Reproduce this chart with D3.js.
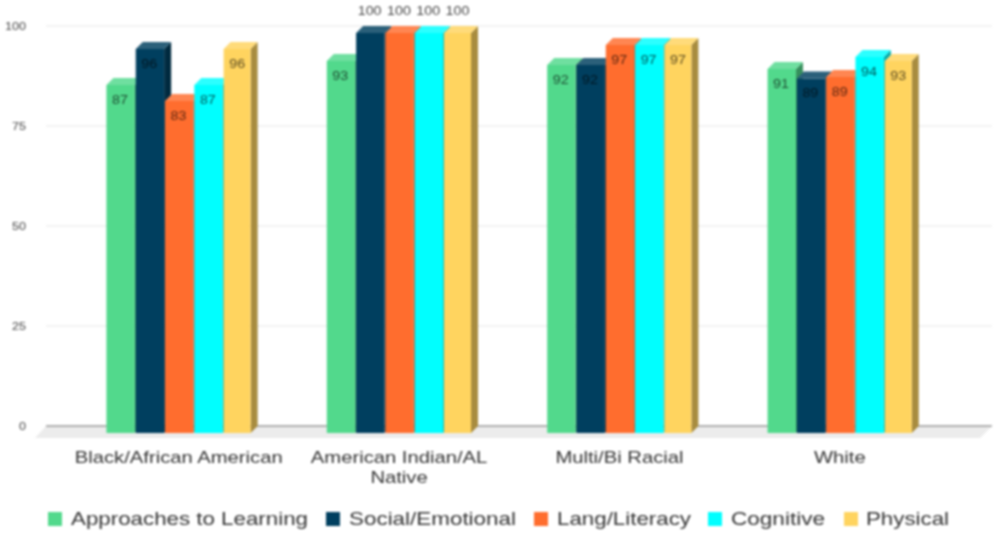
<!DOCTYPE html>
<html><head><meta charset="utf-8">
<script src="https://cdn.jsdelivr.net/npm/d3@7"></script>
<style>html,body{margin:0;padding:0;background:#fff}svg{display:block;filter:blur(0.9px)}text{font-family:"Liberation Sans",Arial,sans-serif}</style>
</head><body><svg id="c" width="997" height="540"></svg>
<script>
const categories=["Black/African American","American Indian/AL Native","Multi/Bi Racial","White"];
const seriesNames=["Approaches to Learning","Social/Emotional","Lang/Literacy","Cognitive","Physical"];
const seriesColors=["#52d98c","#003f5f","#ff6d2e","#00ffff","#ffd45f"];
const approaches=[87,93,92,91];
const social=[96,100,92,88.6];
const literacy=[83,100,97,89];
const cognitive=[87,100,97,94];
const physical=[96,100,97,93];
const yTicks=[0,25,50,75,100];
const seriesValues=[approaches,social,literacy,cognitive,physical];
const svg=d3.select("#c");
const y=d3.scaleLinear().domain([0,100]).range([426,26]);
const x0=d3.scaleBand().domain(categories).range([69.5,951]).padding(0);
const x1=d3.scaleBand().domain(seriesNames).range([0,146.5]).padding(0);
const dep=7, sx=1.19;
const grid=svg.append("g");
grid.append("path").attr("d","M46 426L992 426L980 438L35 438Z").attr("fill","#ececec");
yTicks.forEach(t=>{
 grid.append("line").attr("x1",46).attr("x2",992).attr("y1",y(t)).attr("y2",y(t))
  .attr("stroke",t===0?"#9a9a9a":"#e8e8e8").attr("stroke-width",t===0?1.6:1.1);
 grid.append("text").attr("transform",`translate(26,${y(t)+4}) scale(1.1,1)`).attr("text-anchor","end").attr("font-size",11.5).attr("fill","#444").text(t);
});
const bars=svg.append("g");
categories.forEach((c,ci)=>{
 const g=bars.append("g").attr("transform",`translate(${x0(c)+x0.bandwidth()/2-73.25},0)`);
 seriesNames.forEach((s,si)=>{
  const v=seriesValues[si][ci], base=seriesColors[si], col=d3.color(base);
  const side=d3.rgb(col.r*0.66,col.g*0.66,col.b*0.66);
  const topCol=d3.interpolateRgb(base,"#fff")(0.17);
  const l=x1(s), r=l+(si===4?27:28.4), top=y(v)+dep, bot=y(0)+dep;
  g.append("path").attr("d",`M${r} ${top}L${r+dep} ${top-dep}L${r+dep} ${bot-dep}L${r} ${bot}Z`).attr("fill",side);
  g.append("path").attr("d",`M${l} ${top}L${l+dep} ${top-dep}L${r+dep} ${top-dep}L${r} ${top}Z`).attr("fill",topCol);
  g.append("rect").attr("x",l).attr("y",top).attr("width",r-l).attr("height",bot-top).attr("fill",col);
 });
});
const labels=svg.append("g");
categories.forEach((c,ci)=>{
 const ox=x0(c)+x0.bandwidth()/2-73.25;
 seriesNames.forEach((s,si)=>{
  const v=seriesValues[si][ci];
  labels.append("text").attr("transform",`translate(${ox+x1(s)+13.5},${v>=100?y(v)-11:y(v)+dep+18.5}) scale(1.1,1)`)
   .attr("text-anchor","middle").attr("font-size",13).attr("fill","#000").attr("fill-opacity",v>=100?0.75:0.65).text(d3.format(".0f")(v));
 });
});
const catWrap=[["Black/African American"],["American Indian/AL","Native"],["Multi/Bi Racial"],["White"]];
const catG=svg.append("g");
categories.forEach((c,ci)=>{
 catWrap[ci].forEach((ln,i)=>{
  catG.append("text").attr("transform",`translate(${x0(c)+x0.bandwidth()/2-1},${463+i*20}) scale(${sx},1)`).attr("text-anchor","middle").attr("font-size",17).attr("fill","#333").text(ln);
 });
});
const legX=[48,326,534,708,844], legTxt=[71,349,557,731,866], legLen=[237,167,134,94,83];
const leg=svg.append("g");
seriesNames.forEach((s,i)=>{
 leg.append("rect").attr("x",legX[i]).attr("y",512).attr("width",14).attr("height",14).attr("fill",seriesColors[i]);
 leg.append("text").attr("x",legTxt[i]).attr("y",525).attr("font-size",19).attr("fill","#333").attr("textLength",legLen[i]).attr("lengthAdjust","spacingAndGlyphs").text(s);
});
</script></body></html>
